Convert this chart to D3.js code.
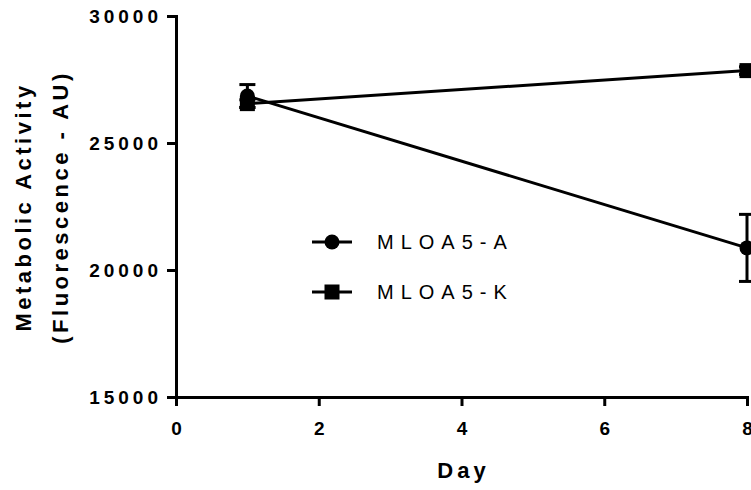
<!DOCTYPE html>
<html>
<head>
<meta charset="utf-8">
<script src="https://cdn.jsdelivr.net/npm/d3@7"></script>
<style>
  body { margin: 0; background: #fff; }
  text { font-family: Arial, "Liberation Sans", sans-serif; fill: #000; }
</style>
</head>
<body>
<div id="chart"></div>
<script>
// data
const days = [1, 8];
const mloaA = [26850, 20870];
const mloaAErr = [450, 1320];
const mloaK = [26550, 27850];
const mloaKErr = [150, 150];
const xTicks = [0, 2, 4, 6, 8];
const yTicks = [15000, 20000, 25000, 30000];

const W = 751, H = 490;
const margin = { top: 16, right: 4, bottom: 93, left: 176 };
const width = W - margin.left - margin.right,
      height = H - margin.top - margin.bottom;

const svg = d3.select("#chart").append("svg")
    .attr("width", W)
    .attr("height", H);

const g = svg.append("g")
    .attr("transform", `translate(${margin.left},${margin.top})`);

const x = d3.scaleLinear().domain([0, 8]).range([0, width]);
const y = d3.scaleLinear().domain([15000, 30000]).range([height, 0]);

// axes
const xAxis = g.append("g")
    .attr("transform", `translate(0,${height})`)
    .call(d3.axisBottom(x).tickValues(xTicks).tickSize(9).tickPadding(16).tickFormat(d3.format("d")));
const yAxis = g.append("g")
    .call(d3.axisLeft(y).tickValues(yTicks).tickSize(9).tickPadding(5).tickFormat(d3.format("d")));

[xAxis, yAxis].forEach(a => {
    a.select(".domain").attr("stroke", "#000").attr("stroke-width", 3);
    a.selectAll(".tick line").attr("stroke", "#000").attr("stroke-width", 3);
    a.selectAll(".tick text")
        .style("font-size", "19px")
        .style("font-weight", "bold")
        .style("letter-spacing", "4px")
        .style("font-family", "Arial, 'Liberation Sans', sans-serif");
});
// x labels: keep the glyph centred despite the trailing letter spacing
xAxis.selectAll(".tick text").attr("dx", "2px");

const series = [
    { name: "MLOA5-A", vals: mloaA, err: mloaAErr, shape: "circle" },
    { name: "MLOA5-K", vals: mloaK, err: mloaKErr, shape: "square" }
];

const line = d3.line().x(d => x(d[0])).y(d => y(d[1]));

series.forEach(s => {
    const pts = days.map((d, i) => [d, s.vals[i], s.err[i]]);
    g.append("path")
        .datum(pts)
        .attr("d", line)
        .attr("fill", "none")
        .attr("stroke", "#000")
        .attr("stroke-width", 3);

    // error bars
    pts.forEach(p => {
        g.append("line")
            .attr("x1", x(p[0])).attr("x2", x(p[0]))
            .attr("y1", y(p[1] - p[2])).attr("y2", y(p[1] + p[2]))
            .attr("stroke", "#000").attr("stroke-width", 3);
        [p[1] - p[2], p[1] + p[2]].forEach(v => {
            g.append("line")
                .attr("x1", x(p[0]) - 8).attr("x2", x(p[0]) + 8)
                .attr("y1", y(v)).attr("y2", y(v))
                .attr("stroke", "#000").attr("stroke-width", 3);
        });
    });
});

// markers drawn on top
function marker(sel, shape, cx, cy) {
    if (shape === "circle") {
        sel.append("circle").attr("cx", cx).attr("cy", cy).attr("r", 7.5).attr("fill", "#000");
    } else {
        sel.append("rect").attr("x", cx - 7.5).attr("y", cy - 7.5).attr("width", 15).attr("height", 15).attr("fill", "#000");
    }
}
series.slice().reverse().forEach(s => {
    days.forEach((d, i) => marker(g, s.shape, x(d), y(s.vals[i])));
});

// legend
const legend = svg.append("g").attr("transform", "translate(312,242)");
series.forEach((s, i) => {
    const row = legend.append("g").attr("transform", `translate(0,${i * 50})`);
    row.append("line").attr("x1", 0).attr("x2", 40).attr("y1", 0).attr("y2", 0)
        .attr("stroke", "#000").attr("stroke-width", 3);
    marker(row, s.shape, 20, 0);
    row.append("text")
        .attr("x", 65).attr("y", 0).attr("dy", "0.36em")
        .style("font-size", "20px")
        .style("letter-spacing", "7px")
        .text(s.name);
});

// axis titles
svg.append("text")
    .attr("x", margin.left + x(4) + 2).attr("y", 478)
    .attr("text-anchor", "middle")
    .style("font-size", "22px").style("font-weight", "bold").style("letter-spacing", "4px")
    .text("Day");

const yt = svg.append("text")
    .attr("transform", "translate(24,207) rotate(-90)")
    .attr("text-anchor", "middle")
    .style("font-size", "22px").style("font-weight", "bold").style("letter-spacing", "3.5px");
yt.append("tspan").attr("x", 0).attr("dy", "0.3em").text("Metabolic Activity");
yt.append("tspan").attr("x", 0).attr("dy", 37).text("(Fluorescence - AU)");
</script>
</body>
</html>
